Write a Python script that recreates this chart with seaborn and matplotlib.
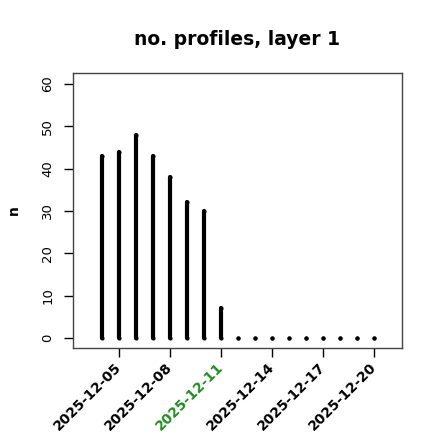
import numpy as np
import pandas as pd
import matplotlib
matplotlib.use("Agg")
import matplotlib.pyplot as plt
import seaborn as sns

# daily profile counts for layer 1
dates = pd.date_range("2025-12-04", "2025-12-20", freq="D")
counts = [43, 44, 48, 43, 38, 32, 30, 7, 0, 0, 0, 0, 0, 0, 0, 0, 0]
tick_dates = pd.date_range("2025-12-05", "2025-12-20", freq="3D")
highlight_day = pd.Timestamp("2025-12-11")

df = pd.DataFrame({"date": dates, "n": counts})

sns.set_style("white")
plt.rcParams["font.family"] = ["DejaVu Sans"]
plt.rcParams.update({"text.color": "black", "axes.labelcolor": "black",
                     "xtick.color": "black", "ytick.color": "black"})

fig = plt.figure(figsize=(4.4, 4.4), dpi=100)
ax = fig.add_axes([73 / 440, 1 - 348 / 440, 329 / 440, 275 / 440])

# R-style type="h" spikes with round ends
ax.vlines(df["date"], 0, df["n"], color="black", linewidth=3.0, capstyle="round")
sns.scatterplot(data=df, x="date", y="n", ax=ax, color="black", s=9,
                linewidth=0, zorder=3)
sns.scatterplot(x=df["date"], y=np.zeros(len(df)), ax=ax, color="black", s=9,
                linewidth=0, zorder=3)

ax.set_xlim(dates[0] - pd.Timedelta(days=1.7), dates[-1] + pd.Timedelta(days=1.65))
ax.set_ylim(-2.4, 62.6)

ax.set_yticks(range(0, 61, 10))
ax.set_yticklabels([str(v) for v in range(0, 61, 10)], rotation=90, va="center",
                   fontsize=9.5)
ax.set_xticks(tick_dates)
ax.set_xticklabels([d.strftime("%Y-%m-%d") for d in tick_dates], rotation=45,
                   ha="right", va="center", rotation_mode="anchor", fontsize=10,
                   fontweight="bold")
for lab, d in zip(ax.get_xticklabels(), tick_dates):
    if d == highlight_day:
        lab.set_color("#228B22")

ax.tick_params(axis="both", direction="out", length=6.5, width=1, color="black",
               bottom=True, left=True)
ax.tick_params(axis="y", pad=7)
ax.tick_params(axis="x", pad=6)
for sp in ax.spines.values():
    sp.set_color("#444444")
    sp.set_linewidth(1)

ax.set_xlabel("")
ax.set_ylabel("n", fontsize=10, fontweight="bold", labelpad=15)
ax.set_title("no. profiles, layer 1", fontsize=13.5, fontweight="bold", pad=20)

fig.savefig("out.png", dpi=100)
